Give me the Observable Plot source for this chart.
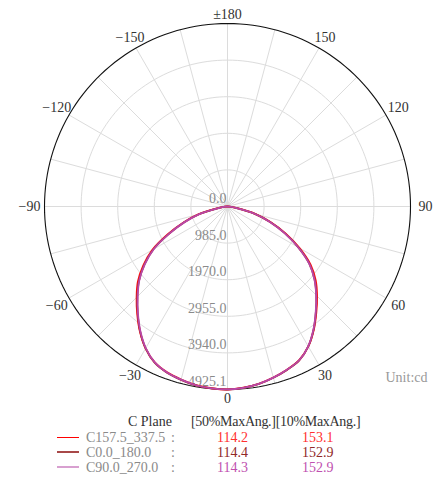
<!DOCTYPE html>
<html><head><meta charset="utf-8">
<script src="https://cdn.jsdelivr.net/npm/d3@7"></script>
<script src="https://cdn.jsdelivr.net/npm/@observablehq/plot@0.6"></script>
<style>
body{margin:0;background:#fff;}
#legend{position:relative;width:448px;height:70px;font-family:'Liberation Serif','DejaVu Serif',serif;font-size:14px;line-height:15px;}
#legend span{position:absolute;white-space:pre;}
#legend .ln{position:absolute;}
</style></head>
<body><div id="chart"></div><div id="legend"></div>
<script>
// gamma angles (deg), 0 = straight down, positive to the right
const angles = [-90,-85,-80,-75,-70,-65,-60,-55,-50,-45,-40,-35,-30,-25,-20,-15,-10,-5,0,5,10,15,20,25,30,35,40,45,50,55,60,65,70,75,80,85,90];
// intensities (cd)
const c157 = [0,70,290,800,1270,1780,2340,2770,3150,3460,3780,4110,4410,4630,4750,4820,4880,4910,4925,4895,4845,4765,4675,4565,4350,4050,3720,3410,3100,2730,2240,1730,1240,770,270,65,0];
const c0   = [0,70,280,780,1240,1740,2300,2730,3110,3430,3760,4100,4410,4640,4760,4830,4890,4915,4925,4900,4850,4770,4680,4570,4350,4040,3700,3380,3060,2690,2200,1700,1220,760,260,60,0];
const c90  = [0,65,275,770,1230,1730,2290,2720,3100,3420,3750,4090,4400,4630,4755,4825,4885,4912,4922,4898,4848,4768,4676,4566,4345,4035,3695,3375,3055,2685,2195,1695,1215,755,255,58,0];
const seriesNames = ["C157.5_337.5", "C0.0_180.0", "C90.0_270.0"];
const seriesColors = ["#ff1010", "#a02828", "#b848a8"];
const legendLineColors = ["#ff0000", "#a84848", "#d8a0d0"];
const valueColors = ["#ff3030", "#902828", "#c050b0"];
const maxAng50 = ["114.2", "114.4", "114.3"];
const maxAng10 = ["153.1", "152.9", "152.9"];
const ringValues = [0, 985.0, 1970.0, 2955.0, 3940.0, 4925.1];
const ringLabels = ["0.0", "985.0", "1970.0", "2955.0", "3940.0", "4925.1"];
const tickAngles = [-150, -120, -90, -60, -30, 0, 30, 60, 90, 120, 150, 180];
const tickLabels = ["−150", "−120", "−90", "−60", "−30", "0", "30", "60", "90", "120", "150", "±180"];
const spokeAngles = [0,15,30,45,60,75,90,105,120,135,150,165,180,195,210,225,240,255,270,285,300,315,330,345];

const MAX = 4925.1, R = 183, CX = 227, CY = 206;
const rad = Math.PI / 180;
const font = "'Liberation Serif','DejaVu Serif',serif";

const series = [c157, c0, c90];
const curveData = [];
series.forEach((vals, si) => vals.forEach((v, i) => curveData.push({s: si, a: angles[i], v})));

const circleSteps = d3.range(0, 361, 2);
const ringData = [];
ringValues.filter(v => v > 0 && v < MAX).forEach(v => circleSteps.forEach(a => ringData.push({v, a})));
const outer = circleSteps.map(a => ({a}));

const spokes = spokeAngles.map(a => ({a}));
const ticks = tickAngles.map((a, i) => ({a, label: tickLabels[i], r: (192 + 6 * Math.abs(Math.sin(a * rad))) / R * MAX}));
const rings = ringValues.map((v, i) => ({v, label: ringLabels[i]}));

const chart = Plot.plot({
  width: 448, height: 408,
  marginTop: 0, marginBottom: 0, marginLeft: 0, marginRight: 0,
  x: {domain: [-MAX, MAX], range: [CX - R, CX + R], axis: null},
  y: {domain: [-MAX, MAX], range: [CY + R, CY - R], axis: null},
  style: {background: "#fff", fontFamily: font},
  marks: [
    Plot.line(ringData, {x: d => d.v * Math.sin(d.a * rad), y: d => -d.v * Math.cos(d.a * rad), z: "v", stroke: "#dcdcdc", strokeWidth: 1}),
    Plot.link(spokes, {x1: 0, y1: 0, x2: d => MAX * Math.sin(d.a * rad), y2: d => -MAX * Math.cos(d.a * rad), stroke: "#dcdcdc", strokeWidth: 1}),
    Plot.line(outer, {x: d => MAX * Math.sin(d.a * rad), y: d => -MAX * Math.cos(d.a * rad), stroke: "#111", strokeWidth: 1.1}),
    Plot.text(rings, {x: 0, y: d => -d.v, text: "label", textAnchor: "end", dx: -1, dy: -8, fill: "#8a8a8a", fontFamily: font, fontSize: 14}),
    Plot.line(curveData, {x: d => d.v * Math.sin(d.a * rad), y: d => -d.v * Math.cos(d.a * rad), z: "s", stroke: d => seriesColors[d.s], strokeWidth: 1.8, curve: "catmull-rom"}),
    Plot.text(ticks, {x: d => d.r * Math.sin(d.a * rad), y: d => -d.r * Math.cos(d.a * rad), text: "label", textAnchor: "middle", fill: "#333", fontFamily: font, fontSize: 14}),
    Plot.text(["Unit:cd"], {frameAnchor: "top-left", dx: 385, dy: 372, text: d => d, textAnchor: "start", fill: "#999", fontFamily: font, fontSize: 14})
  ]
});
document.getElementById("chart").appendChild(chart);

const lg = document.getElementById("legend");
const top0 = 408;
function addSpan(text, x, yc, color) {
  const s = document.createElement("span");
  s.textContent = text; s.style.left = x + "px"; s.style.top = Math.round(yc - 7.5 - top0) + "px"; s.style.color = color;
  lg.appendChild(s);
  return s;
}
addSpan("C Plane", 128, 421, "#333");
addSpan("[50%MaxAng.][10%MaxAng.]", 191, 421, "#333").style.letterSpacing = "-0.3px";
const rowsY = [437, 452, 467];
seriesNames.forEach((n, i) => {
  const l = document.createElement("div");
  l.className = "ln";
  const w = i === 0 ? 1 : 2;
  l.style.left = "57px"; l.style.width = "22px"; l.style.height = w + "px";
  l.style.top = (rowsY[i] - top0 - Math.floor(w / 2)) + "px";
  l.style.background = legendLineColors[i];
  lg.appendChild(l);
  addSpan(n, 86, rowsY[i], "#8a8a8a");
  addSpan(":", 171, rowsY[i], "#8a8a8a");
  addSpan(maxAng50[i], 217, rowsY[i], valueColors[i]);
  addSpan(maxAng10[i], 302, rowsY[i], valueColors[i]);
});
</script>
</body></html>
